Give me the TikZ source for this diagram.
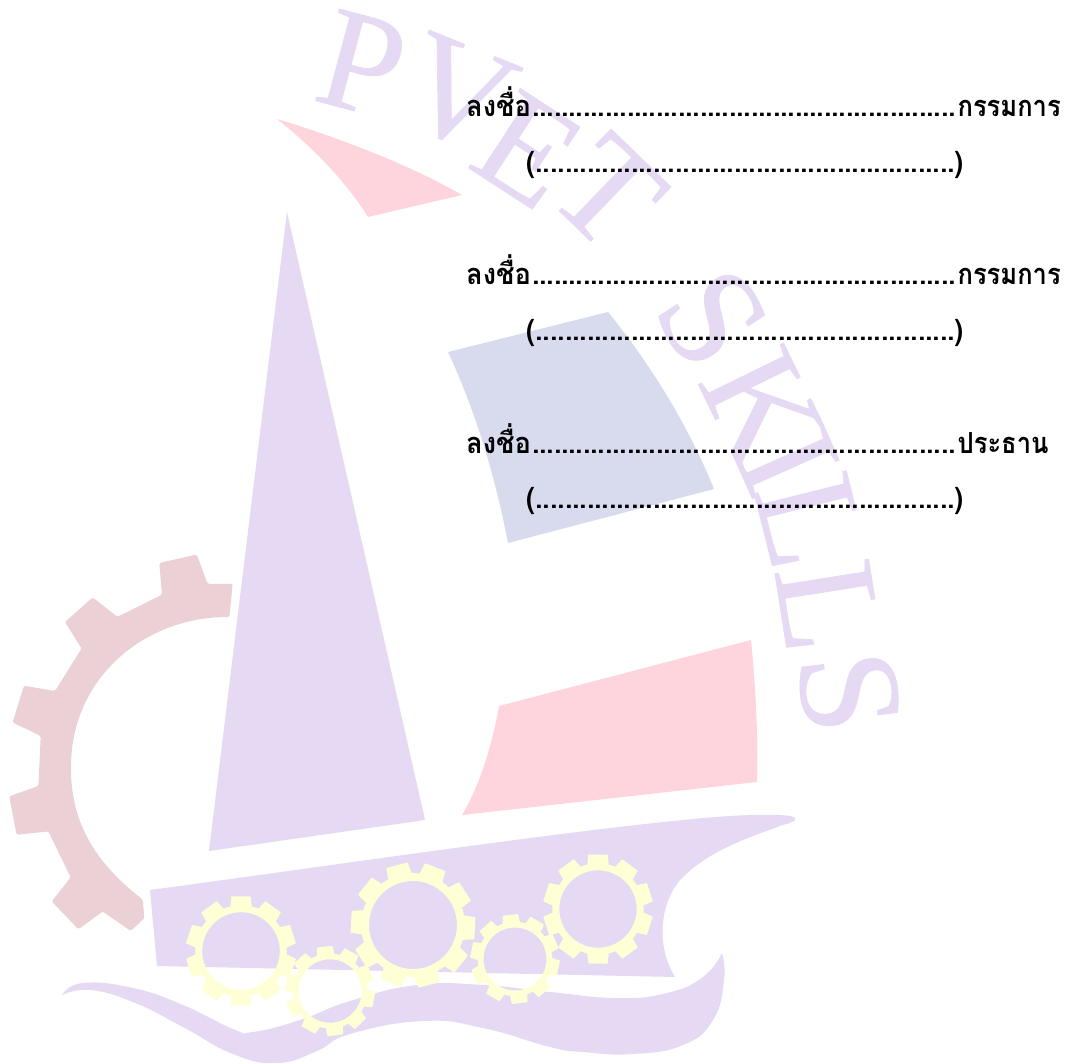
\documentclass[tikz,border=0pt]{standalone}
\usepackage{fontspec}
\newfontfamily\thaifont[Script=Thai,FakeStretch=0.88]{Loma}
\newfontfamily\markfont[FakeBold=0.4]{Liberation Serif}
\definecolor{lav}{HTML}{E5D9F4}
\definecolor{rosey}{HTML}{FFD5DD}
\definecolor{slateb}{HTML}{D8DBEE}
\definecolor{gearred}{HTML}{EBD0D6}
\definecolor{gearyel}{HTML}{FFFFD5}
\newcommand\dotrow[2]{{\fontsize{31}{31}\selectfont\foreach \i in {1,...,#1}{\hbox to #2pt{\hss.\hss}}}}
\newcommand\signword{\hbox to 66pt{\scalebox{1.07}[1]{ลงชื่อ}\hss}}
\newcommand\smallgear[4]{%
 \begin{scope}[shift={(#1,#2)}]
  \draw[gearyel,line width={0.18*#3 pt}] (0,0) circle[radius={1.09*#3}];
  \foreach \k in {0,...,9}{
   \pgfmathsetmacro\a{-(#4+36*\k)}
   \pgfmathsetmacro\ri{1.13*#3}
   \pgfmathsetmacro\ro{1.43*#3}
   \fill[gearyel,rounded corners=0.5pt] ({\a-14.5}:\ri) -- ({\a-10}:\ro) -- ({\a+10}:\ro) -- ({\a+14.5}:\ri) -- cycle;
  }
 \end{scope}}
\tikzset{
 wm/.style={font=\markfont\fontsize{145}{145}\selectfont,text=lav,inner sep=0pt,anchor=center},
 sign/.style={font=\thaifont\bfseries\fontsize{29}{34}\selectfont,inner sep=0pt,anchor=base west,text=black}
}
\begin{document}
\begin{tikzpicture}[x=1pt,y=-1pt]
\useasboundingbox (0,0) rectangle (1078,1064);
\fill[white] (0,0) rectangle (1078,1064);
% watermark
\node[wm,rotate=-15] (wP) at (362,64) {P};
\node[wm,rotate=-22] (wV) at (458,94) {V};
\node[wm,rotate=-33] (wE) at (528,150) {E};
\node[wm,rotate=-44] (wT) at (608,192) {T};
% sails
\fill[rosey] (277,119) .. controls (340,138) and (410,165) .. (462,195) -- (368,217) .. controls (345,180) and (310,145) .. cycle;
\fill[lav] (287,212) -- (425,820) -- (209,851) -- cycle;
\fill[slateb] (448,352) -- (608,312) .. controls (655,370) and (690,430) .. (714,489) -- (508,543) .. controls (495,475) and (475,410) .. cycle;
\node[wm,rotate=-57] (wS) at (712,318) {S};
\node[wm,rotate=-64] (wK) at (762,407) {K};
\node[wm,rotate=-66] (wI) at (788,462) {I};
\node[wm,rotate=-76] (wL) at (810,521) {L};
\node[wm,rotate=-81] (wLL) at (828,606) {L};
\node[wm,rotate=-83] (wSS) at (849,692) {S};
\fill[rosey] (499,706) -- (751,640) .. controls (756,690) and (758,735) .. (757,782) -- (462,815) .. controls (480,785) and (492,745) .. cycle;
% big gear
\fill[gearred,rounded corners=1.5pt] (232.7,583.8) -- (207.5,583.8) -- (196.8,554.5) -- (159.3,563) -- (162,594.7) -- (117.4,616.9) -- (92.7,597.4) -- (65,622) -- (81.6,648.5) -- (55,691) -- (24,685.7) -- (12.6,722.4) -- (40.7,736) -- (38.4,786) -- (9.3,796.3) -- (16.6,834.8) -- (48.4,831.4) -- (70.7,877.4) -- (51.7,901.3) -- (78.3,929.2) -- (102.7,911.5) -- (130.7,930.9) -- (144.4,918.3) -- (142.7,899.5)
 .. controls (98,865) and (71,825) .. (71,768) .. controls (71,680) and (142,617) .. (229.4,617) -- cycle;
% hull
\fill[lav] (150,890) .. controls (300,870) and (550,833) .. (683,820) .. controls (720,816) and (770,813) .. (790,816) .. controls (800,818) and (795,822) .. (783,825) .. controls (750,837) and (710,850) .. (683,877) .. controls (660,900) and (655,945) .. (675,977) -- (157,966) -- cycle;
% wave
\fill[lav] plot[smooth,tension=0.8] coordinates {(62,995) (83,983) (133,988) (183,1005) (233,1029) (253,1032) (300,1020) (350,1001) (417,985) (483,985) (550,992) (617,998) (667,993) (703,977) (722,953)}
 -- plot[smooth,tension=0.8] coordinates {(722,953) (724,980) (713,1020) (683,1045) (633,1054) (583,1052) (550,1047) (483,1028) (423,1021) (350,1034) (317,1051) (277,1063) (233,1054) (183,1027) (133,1002) (90,990) (62,995)} -- cycle;
% small gears
\smallgear{241}{951}{38.8}{90}
\smallgear{330}{991}{31.7}{97}
\smallgear{413}{925}{44}{-3}
\smallgear{515}{959}{31.5}{96}
\smallgear{598}{909}{38.7}{90}
% signature lines
\node[sign] (s1) at (466,117) {\signword\dotrow{58}{7.3}\kern 2pt กรรมการ};
\node[sign] (n1) at (526,173) {\hbox to 9.5pt{(\hss}\dotrow{57}{7.35})};
\node[sign] (s2) at (466,285) {\signword\dotrow{58}{7.3}\kern 2pt กรรมการ};
\node[sign] (n2) at (526,341) {\hbox to 9.5pt{(\hss}\dotrow{57}{7.35})};
\node[sign] (s3) at (466,453) {\signword\dotrow{58}{7.3}\kern 2pt ประธาน};
\node[sign] (n3) at (526,508) {\hbox to 9.5pt{(\hss}\dotrow{57}{7.35})};
\end{tikzpicture}
\end{document}
